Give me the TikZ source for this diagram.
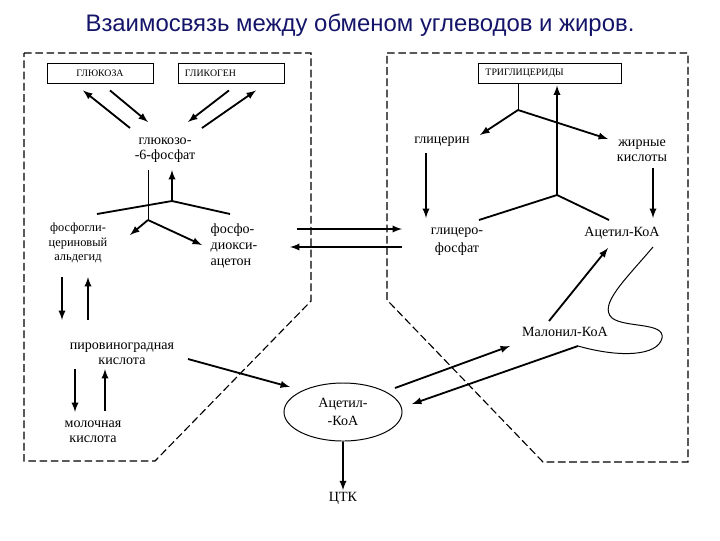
\documentclass[tikz,border=0pt]{standalone}
\usepackage{fontspec}
\setmainfont{Liberation Serif}
\newfontfamily\headfont{Liberation Sans}
\usetikzlibrary{shapes.geometric}
\definecolor{headblue}{RGB}{20,20,105}

\begin{document}
\begin{tikzpicture}[>=latex,x=0.025cm,y=-0.025cm,
        lbl/.style={align=center,inner sep=1pt,font=\fontsize{10}{11}\selectfont},
        box/.style={draw,line width=0.6pt,minimum height=0.5cm,inner xsep=0.175cm,align=left,font=\fontsize{7}{8}\selectfont},
        arr/.style={->,line width=1.3pt},
        link/.style={line width=1.3pt},
        fine/.style={line width=0.7pt},
        border/.style={dash pattern=on 5.5pt off 2.5pt,line width=0.8pt}]
        \useasboundingbox (0,0) rectangle (720,540);
        \node[font=\headfont\fontsize{17}{20}\selectfont,text=headblue] (title) at (360,25) {Взаимосвязь между обменом углеводов и жиров.};

        \draw[border] (24,53) -- (311,53) -- (311,301) -- (155,461) -- (24,461) -- cycle;
        \draw[border] (387,53) -- (688,53) -- (688,462) -- (543,462) -- (387,300) -- cycle;

        \node[box,text width=2.3cm,align=center] (glc) at (100,73) {ГЛЮКОЗА};
        \node[box,text width=2.3cm] (glg) at (231,73) {ГЛИКОГЕН};
        \node[box,text width=3.225cm] (trig) at (550,73) {ТРИГЛИЦЕРИДЫ};

        \node[lbl] (g6p) at (165,150) {глюкозо-\\-6-фосфат};
        \node[lbl,font=\fontsize{8.8}{10.3}\selectfont] (pga) at (78,243) {фосфогли-\\цериновый\\альдегид};
        \node[lbl,anchor=west,align=left,font=\fontsize{10}{11.7}\selectfont] (dhap) at (209,246) {фосфо-\\диокси-\\ацетон};
        \node[lbl] (pyr) at (122,354) {пировиноградная\\кислота};
        \node[lbl] (lact) at (93,432) {молочная\\кислота};
        \node[draw,ellipse,fine,minimum width=2.95cm,minimum height=1.45cm,align=center,font=\fontsize{10}{12.5}\selectfont] (acoa) at (343,412) {Ацетил-\\-КоА};
        \node[lbl] (tca) at (343,498) {ЦТК};
        \node[lbl] (glyc) at (442,142) {глицерин};
        \node[lbl] (fa) at (642,151) {жирные\\кислоты};
        \node[lbl,font=\fontsize{10}{12.8}\selectfont] (g3p) at (457,242) {глицеро-\\фосфат};
        \node[lbl] (acoa2) at (622,233) {Ацетил-КоА};
        \node[lbl] (malcoa) at (565,332) {Малонил-КоА};

        \coordinate (gsplit) at (148,220);
        \coordinate (vtop) at (172,201);
        \coordinate (tsplit) at (518,110);
        \coordinate (ltop) at (557,195);
        \coordinate (wavend) at (578,346);

        \draw[arr] ([shift={(-35,-22)}]g6p.center) -- ([shift={(-17,7)}]glc.south);
        \draw[arr] ([shift={(10,7)}]glc.south) -- ([shift={(-17,-28)}]g6p.center);
        \draw[arr] ([shift={(-2,7)}]glg.south) -- ([shift={(23,-28)}]g6p.center);
        \draw[arr] ([shift={(37,-22)}]g6p.center) -- ([shift={(25,7)}]glg.south);

        \draw[fine] ([shift={(-17,20)}]g6p.center) -- (gsplit);
        \draw[link] ([shift={(-75,13)}]vtop) -- (vtop) -- ([shift={(58,13)}]vtop);
        \draw[arr] (vtop) -- ([shift={(7,20)}]g6p.center);
        \draw[arr] (gsplit) -- ([shift={(52,-8)}]pga.center);
        \draw[arr] (gsplit) -- ([shift={(-7,-1)}]dhap.west);

        \draw[arr] ([shift={(-16,34)}]pga.center) -- ([shift={(-60,-34)}]pyr.center);
        \draw[arr] ([shift={(-34,-34)}]pyr.center) -- ([shift={(10,34)}]pga.center);
        \draw[arr] ([shift={(-47,15)}]pyr.center) -- ([shift={(-18,-20)}]lact.center);
        \draw[arr] ([shift={(12,-21)}]lact.center) -- ([shift={(-17,15)}]pyr.center);
        \draw[arr] ([shift={(66,5)}]pyr.center) -- ([shift={(-53,-25)}]acoa.center);
        \draw[arr] (acoa.south) -- (tca.north);

        \draw[arr] ([shift={(88,-17)}]dhap.west) -- ([shift={(-55,-13)}]g3p.center);
        \draw[arr] ([shift={(-55,5)}]g3p.center) -- ([shift={(81,1)}]dhap.west);

        \draw[fine] ([shift={(-32,0)}]trig.south) -- (tsplit);
        \draw[arr] (tsplit) -- ([shift={(38,-7)}]glyc.center);
        \draw[arr] (tsplit) -- ([shift={(-34,-12)}]fa.center);
        \draw[link] ([shift={(-78,25)}]ltop) -- (ltop) -- ([shift={(52,25)}]ltop);
        \draw[arr] (ltop) -- ([shift={(7,2)}]trig.south);
        \draw[arr] ([shift={(-16,11)}]glyc.center) -- ([shift={(-31,-24)}]g3p.center);
        \draw[arr] ([shift={(11,17)}]fa.center) -- ([shift={(31,-15)}]acoa2.center);

        \draw[arr] ([shift={(-16,-11)}]malcoa.center) -- ([shift={(-14,15)}]acoa2.center);
        \draw[arr] ([shift={(52,-24)}]acoa.center) -- ([shift={(-55,14)}]malcoa.center);
        \draw[fine] ([shift={(31,14)}]acoa2.center) .. controls (625,280) and (598,305) .. (612,318)
            .. controls (625,328) and (665,322) .. (662,338)
            .. controls (658,356) and (620,358) .. (wavend);
        \draw[arr] (wavend) -- ([shift={(69,-8)}]acoa.center);
    \end{tikzpicture}
\end{document}
